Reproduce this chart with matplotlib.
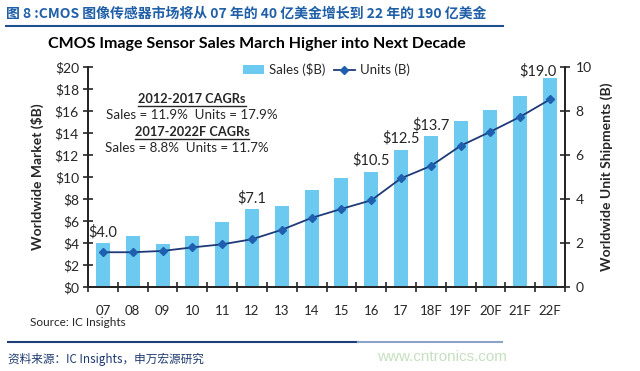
import matplotlib
matplotlib.use("Agg")
import matplotlib.pyplot as plt
from matplotlib.lines import Line2D
import numpy as np

years = ["07", "08", "09", "10", "11", "12", "13", "14", "15", "16", "17",
         "18F", "19F", "20F", "21F", "22F"]
sales = [4.0, 4.6, 3.9, 4.6, 5.9, 7.1, 7.4, 8.8, 9.9, 10.5, 12.5,
         13.7, 15.1, 16.1, 17.4, 19.0]
units = [1.58, 1.58, 1.64, 1.80, 1.94, 2.17, 2.60, 3.14, 3.55, 3.94, 4.94,
         5.50, 6.42, 7.06, 7.74, 8.53]
labelled = ["07", "12", "16", "17", "18F", "22F"]
left_ticks = list(range(0, 21, 2))
right_ticks = list(range(0, 11, 2))

plt.rcParams['font.family'] = ['Lato', 'DejaVu Sans']
bar_color = "#6ccaf1"
line_color = "#1f3a78"
marker_color = "#1f5fb0"
ink = "#262626"

fig = plt.figure(figsize=(6.4, 3.71), dpi=100)
fig.patch.set_facecolor("white")
ax = fig.add_axes([88/640, 1-287/371, (565-88)/640, (287-67)/371])
ax2 = ax.twinx()

x = np.arange(len(years))
bars = ax.bar(x, sales, width=0.47, color=bar_color, zorder=2, label="Sales ($B)")
ln, = ax2.plot(x, units, color=line_color, lw=1.3, marker="D", ms=4.5,
               mfc=marker_color, mec=marker_color, zorder=3, label="Units (B)")

ax.set_xlim(-0.5, len(years) - 0.5)
ax.set_ylim(0, 20)
ax2.set_ylim(0, 10)

ax.set_yticks(left_ticks)
ax.set_yticklabels(["$%d" % v for v in left_ticks], fontsize=10, color=ink)
ax2.set_yticks(right_ticks)
ax2.set_yticklabels([str(v) for v in right_ticks], fontsize=10, color=ink)

ax.set_xticks(np.arange(-0.5, len(years), 1.0))
ax.set_xticklabels([])
ax.set_xticks(x, minor=True)
ax.set_xticklabels(years, minor=True, fontsize=9.5, color=ink)
ax.tick_params(axis="x", which="minor", length=0, pad=13)
ax.tick_params(axis="x", which="major", direction="inout", length=7, width=1.2, color=ink)
ax.tick_params(axis="y", direction="inout", length=7, width=1.2, color=ink, pad=3)
ax2.tick_params(axis="y", direction="inout", length=7, width=1.2, color=ink, pad=4)

for a in (ax, ax2):
    a.spines["top"].set_visible(False)
    for s in ("left", "right", "bottom"):
        a.spines[s].set_linewidth(1.4)
        a.spines[s].set_color(ink)

ax.set_ylabel("Worldwide Market ($B)", fontsize=10, fontweight="bold", color=ink, labelpad=8)
ax2.set_ylabel("Worldwide Unit Shipments (B)", fontsize=10, fontweight="bold", color=ink, labelpad=6)

for xi, yr, v in zip(x, years, sales):
    if yr in labelled:
        if yr == years[-1]:
            ax.text(xi + 0.22, v + 0.6, "$%.1f" % v, ha="right", va="center",
                    fontsize=10.5, color=ink)
        else:
            ax.text(xi, v + 0.35, "$%.1f" % v, ha="center", va="bottom",
                    fontsize=10.5, color=ink)

ax.legend(handles=[bars, ln], loc="upper center", bbox_to_anchor=(0.5, 1.07), ncol=2,
          frameon=False, fontsize=9.5, handlelength=1.6, columnspacing=0.6,
          handletextpad=0.4, labelcolor=ink)

# CAGR notes
cx = 0.218
t1 = ax.text(cx, 0.855, "2012-2017 CAGRs", transform=ax.transAxes, ha="center",
             va="center", fontsize=9.2, fontweight="bold", color=ink)
ax.text(cx, 0.78, "Sales = 11.9%  Units = 17.9%", transform=ax.transAxes, ha="center",
        va="center", fontsize=9.6, color=ink)
t2 = ax.text(cx, 0.705, "2017-2022F CAGRs", transform=ax.transAxes, ha="center",
             va="center", fontsize=9.2, fontweight="bold", color=ink)
ax.text(cx - 0.01, 0.63, "Sales = 8.8%  Units = 11.7%", transform=ax.transAxes, ha="center",
        va="center", fontsize=9.6, color=ink)

# header and chart title
fig.text(6/640, 1-14/371, "图 8 :CMOS 图像传感器市场将从 07 年的 40 亿美金增长到 22 年的 190 亿美金",
         fontsize=10, fontweight="bold", color="#1e5fa8", ha="left", va="center",
         family=["Noto Sans CJK SC", "DejaVu Sans"])
fig.add_artist(Line2D([6/640, 503/640], [1-26/371, 1-26/371], color="#1e4f8f", lw=1.5))
fig.text(257/640, 1-44/371, "CMOS Image Sensor Sales March Higher into Next Decade",
         fontsize=11.5, fontweight="bold", color="black", ha="center", va="center")

fig.text(30/640, 1-322/371, "Source: IC Insights", fontsize=8.5, color=ink, ha="left", va="center")

# footer
fig.add_artist(Line2D([8/640, 358/640], [1-342/371, 1-342/371], color="#1e3f7a", lw=1.5))
fig.add_artist(Line2D([358/640, 502/640], [1-342/371, 1-342/371], color="#8aa3c8", lw=1.5))
fig.text(8/640, 1-359/371, "资料来源：IC Insights，申万宏源研究", fontsize=8.4, color="#1e3a6e",
         ha="left", va="center", family=["Noto Sans CJK SC", "DejaVu Sans"])
fig.text(507/640, 1-357/371, "www.cntronics.com", fontsize=11, color="#c6dfc0",
         ha="right", va="center", family=["Liberation Sans", "DejaVu Sans"])

# underline the CAGR headers
fig.canvas.draw()
r = fig.canvas.get_renderer()
for t in (t1, t2):
    bb = t.get_window_extent(r)
    y0 = (bb.y0 - 1) / fig.bbox.height
    fig.add_artist(Line2D([bb.x0 / fig.bbox.width, bb.x1 / fig.bbox.width], [y0, y0],
                          color=ink, lw=1.0))

fig.savefig("out.png", dpi=100)
